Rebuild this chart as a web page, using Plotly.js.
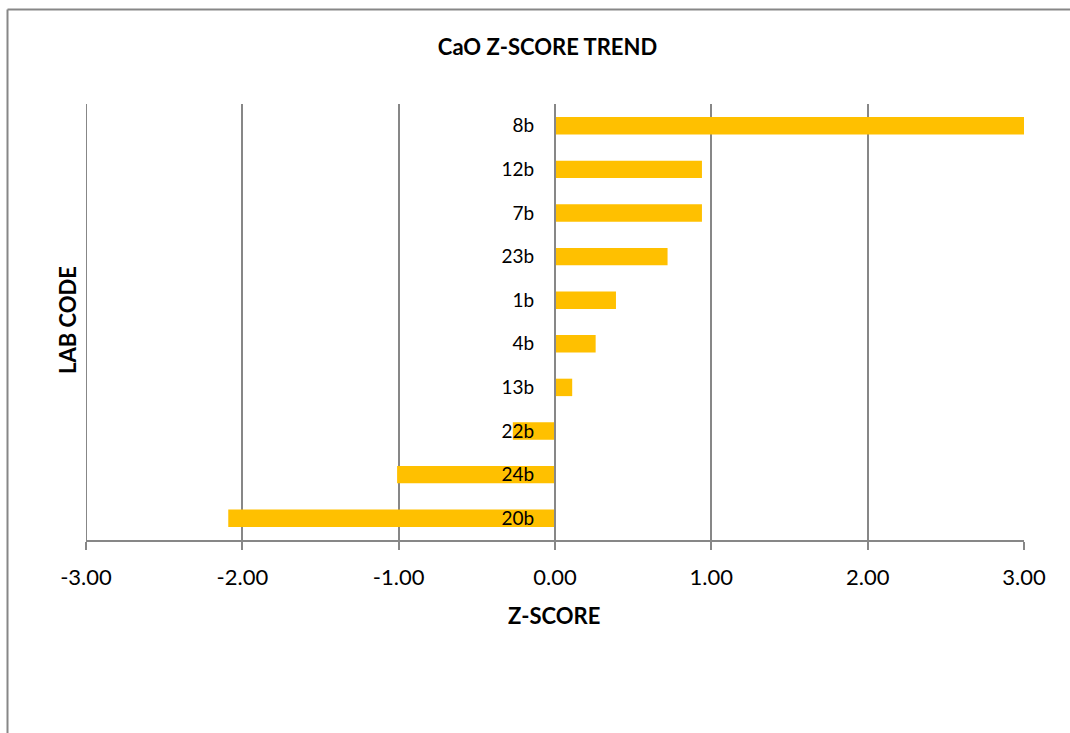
<!DOCTYPE html>
<html>
<head>
<meta charset="utf-8">
<script src="https://cdn.plot.ly/plotly-3.0.1.min.js"></script>
<style>
  html, body { margin: 0; padding: 0; background: #ffffff; }
  #chart { width: 1070px; height: 733px; }
</style>
</head>
<body>
<div id="chart"></div>
<script>
// Data (bottom to top, as drawn)
const labCodes = ["20b", "24b", "22b", "13b", "4b", "1b", "23b", "7b", "12b", "8b"];
const zScores  = [-2.09, -1.01, -0.27, 0.11, 0.26, 0.39, 0.72, 0.94, 0.94, 3.02];
const xTickVals = [-3, -2, -1, 0, 1, 2, 3];
const xTickText = ["-3.00", "-2.00", "-1.00", "0.00", "1.00", "2.00", "3.00"];

const chartTitle = "CaO Z-SCORE TREND";
const xTitle = "Z-SCORE";
const yTitle = "LAB CODE";

const FONT = "Lato, 'Open Sans', 'Liberation Sans', sans-serif";
const GRID = "#878787";

const trace = {
  type: "bar",
  orientation: "h",
  x: zScores,
  y: labCodes,
  marker: { color: "#FFC000", line: { width: 0 } },
  hoverinfo: "x+y",
  cliponaxis: true
};

// plot area: x 86..1024, y 104..540
const L = 86, R = 46, T = 104, B = 193;
const PW = 1070 - L - R, PH = 733 - T - B;
const px = v => (v - L) / PW;
const py = v => (733 - B - v) / PH;

const layout = {
  width: 1070,
  height: 733,
  margin: { l: L, r: R, t: T, b: B, pad: 0 },
  paper_bgcolor: "#ffffff",
  plot_bgcolor: "#ffffff",
  showlegend: false,
  bargap: 0.6,
  font: { family: FONT, color: "#000000" },
  title: {
    text: "<b>" + chartTitle + "</b>",
    font: { family: FONT, size: 22, color: "#000000" },
    xref: "container", x: 547.5 / 1070, xanchor: "center",
    yref: "container", y: 1 - 47 / 733, yanchor: "middle"
  },
  xaxis: {
    range: [-3, 3],
    tickmode: "array",
    tickvals: xTickVals,
    ticktext: xTickText,
    ticks: "outside",
    ticklen: 8,
    tickwidth: 2,
    tickcolor: GRID,
    ticklabelstandoff: 9,
    tickfont: { family: FONT, size: 22, color: "#000000" },
    showline: true,
    linecolor: GRID,
    linewidth: 2,
    showgrid: true,
    gridcolor: GRID,
    gridwidth: 2,
    zeroline: false,
    fixedrange: true
  },
  yaxis: {
    type: "category",
    categoryorder: "array",
    categoryarray: labCodes,
    range: [-0.5, 9.5],
    anchor: "free",
    position: 0.5,
    side: "left",
    showline: true,
    linecolor: GRID,
    linewidth: 2,
    ticks: "",
    ticklabelstandoff: 16,
    tickfont: { family: FONT, size: 19, color: "#000000" },
    showgrid: false,
    zeroline: false,
    fixedrange: true
  },
  annotations: [
    {
      text: "<b>" + xTitle + "</b>",
      xref: "paper", yref: "paper",
      x: px(554), y: py(615),
      xanchor: "center", yanchor: "middle",
      showarrow: false,
      font: { family: FONT, size: 22, color: "#000000" }
    },
    {
      text: "<b>" + yTitle + "</b>",
      xref: "paper", yref: "paper",
      x: px(67), y: py(320),
      xanchor: "center", yanchor: "middle",
      textangle: -90,
      showarrow: false,
      font: { family: FONT, size: 22, color: "#000000" }
    }
  ],
  shapes: [
    // gridline at the left range edge (-3), which Plotly omits
    {
      type: "line", xref: "x", yref: "paper", layer: "below",
      x0: -3, x1: -3, y0: 0, y1: 1,
      line: { color: GRID, width: 2 }
    },
    // chart-area border (top and left edges visible)
    {
      type: "line", xref: "paper", yref: "paper",
      x0: px(7.5), x1: px(1075), y0: py(9.5), y1: py(9.5),
      line: { color: GRID, width: 2 }
    },
    {
      type: "line", xref: "paper", yref: "paper",
      x0: px(7.5), x1: px(7.5), y0: py(9.5), y1: py(740),
      line: { color: GRID, width: 2 }
    }
  ]
};

Plotly.newPlot("chart", [trace], layout, { displayModeBar: false, staticPlot: true });
</script>
</body>
</html>
